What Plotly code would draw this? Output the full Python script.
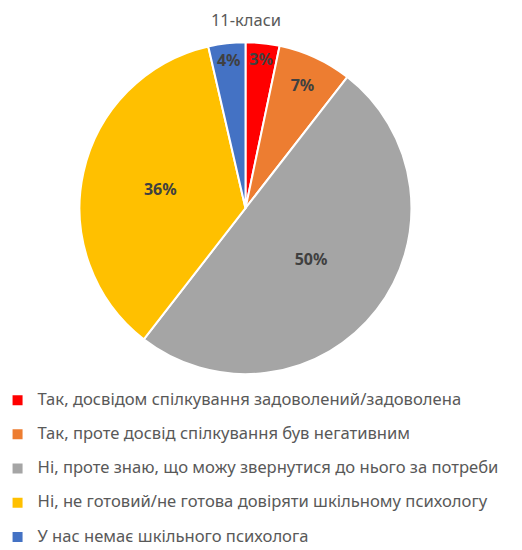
import plotly.graph_objects as go

# answers of 11th-grade pupils (share, %)
labels = [
    "Так, досвідом спілкування задоволений/задоволена",
    "Так, проте досвід спілкування був негативним",
    "Ні, проте знаю, що можу звернутися до нього за потреби",
    "Ні, не готовий/не готова довіряти шкільному психологу",
    "У нас немає шкільного психолога",
]
values = [3.3, 7.2, 50.0, 35.9, 3.6]
colors = ["#FF0000", "#ED7D31", "#A5A5A5", "#FFC000", "#4472C4"]

font_family = "Noto Sans, Open Sans, sans-serif"

# legend rows are spaced wider than plotly's default, so each label gets an
# empty second line (small base font) while the visible line is larger
legend_labels = ['<span style="font-size:16.6px">' + s + '</span><br> ' for s in labels]

fig = go.Figure(go.Pie(
    labels=legend_labels,
    values=values,
    sort=False,
    direction="clockwise",
    rotation=0,
    marker=dict(colors=colors, line=dict(color="white", width=2)),
    texttemplate="<b>%{percent:.0%}</b>",
    textposition="inside",
    insidetextorientation="horizontal",
    textfont=dict(color="#404040", size=16, family=font_family),
    domain=dict(x=[0.137, 0.773], y=[0.333, 0.939]),
    hoverinfo="percent",
))

fig.update_layout(
    width=522, height=550,
    margin=dict(l=0, r=0, t=0, b=0, autoexpand=False),
    paper_bgcolor="white",
    title=dict(text="11-класи", x=0.456, xanchor="center", y=0.977, yanchor="middle",
               font=dict(size=16.5, color="#595959", family=font_family)),
    uniformtext=dict(minsize=16, mode="show"),
    legend=dict(
        orientation="v",
        x=-0.02, xanchor="left",
        y=0.313, yanchor="top",
        valign="top",
        font=dict(size=12, color="#595959", family=font_family),
        itemwidth=30,
        traceorder="normal",
    ),
)

fig.write_html("out.html")
